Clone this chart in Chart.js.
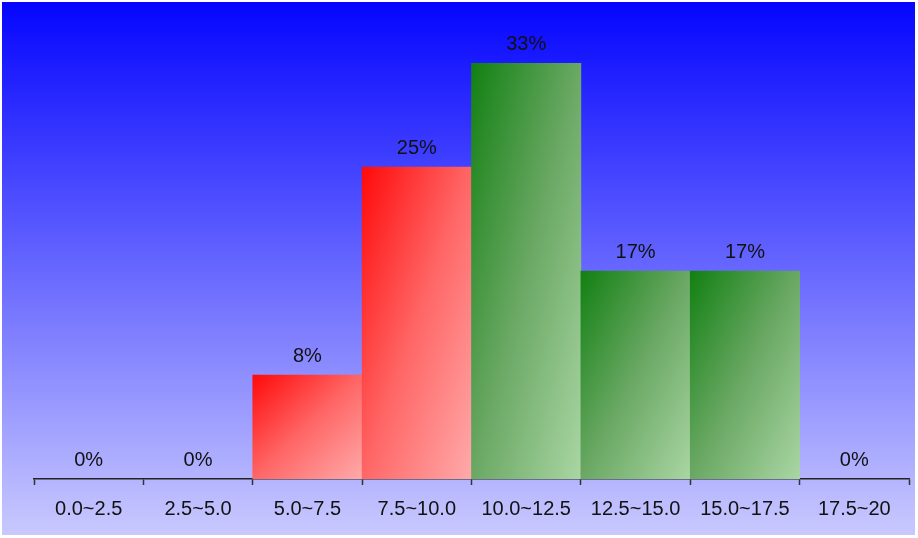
<!DOCTYPE html>
<html>
<head>
<meta charset="utf-8">
<title>Histogram</title>
<script src="https://cdn.jsdelivr.net/npm/chart.js@4/dist/chart.umd.min.js"></script>
<style>
    html, body { margin: 0; padding: 0; background: #fff; }
    canvas { display: block; }
</style>
</head>
<body>
<canvas id="histChart" width="918" height="538"></canvas>
<script>
// Chart data
const rangeLabels = ['0.0~2.5', '2.5~5.0', '5.0~7.5', '7.5~10.0', '10.0~12.5', '12.5~15.0', '15.0~17.5', '17.5~20'];
const sharePercent = [0, 0, 8.33, 25, 33.33, 16.67, 16.67, 0];

// Styling
const barGroup = ['red', 'red', 'red', 'red', 'green', 'green', 'green', 'green'];
const gradientStops = {
    red: ['rgb(255, 10, 10)', 'rgb(255, 102, 102)', 'rgb(255, 170, 170)'],
    green: ['rgb(18, 128, 18)', 'rgb(106, 168, 100)', 'rgb(170, 214, 164)']
};
const FONT = "'Liberation Sans', Arial, sans-serif";

document.addEventListener('DOMContentLoaded', () => {
    const canvas = document.getElementById('histChart');
    const ctx = canvas.getContext('2d');

    // Gradient running from top-left to bottom-right of each bar box
    function barGradient(c) {
        const chart = c.chart;
        const stops = gradientStops[barGroup[c.dataIndex]];
        if (!c.raw) return 'rgba(0, 0, 0, 0)';
        if (!chart.chartArea || !chart.scales.x || !chart.scales.y) return stops[0];
        const xs = chart.scales.x;
        const ys = chart.scales.y;
        const w = xs.width / rangeLabels.length;
        const x0 = xs.getPixelForValue(c.dataIndex) - w / 2;
        const y0 = ys.getPixelForValue(c.raw);
        const h = ys.getPixelForValue(0) - y0;
        if (h <= 0) return stops[0];
        const k = 2 * w * h / (w * w + h * h);
        const g = chart.ctx.createLinearGradient(x0, y0, x0 + k * h, y0 + k * w);
        g.addColorStop(0, stops[0]);
        g.addColorStop(0.5, stops[1]);
        g.addColorStop(1, stops[2]);
        return g;
    }

    const backgroundPlugin = {
        id: 'panelBackground',
        beforeDraw(chart) {
            const c = chart.ctx;
            c.save();
            c.fillStyle = '#ffffff';
            c.fillRect(0, 0, chart.width, chart.height);
            const g = c.createLinearGradient(0, 2, 0, 535);
            g.addColorStop(0, 'rgb(5, 5, 255)');
            g.addColorStop(1, 'rgb(201, 201, 255)');
            c.fillStyle = g;
            c.fillRect(2, 2, 913, 533);
            c.restore();
        }
    };

    const valueLabelPlugin = {
        id: 'valueLabels',
        afterDatasetsDraw(chart) {
            const c = chart.ctx;
            const meta = chart.getDatasetMeta(0);
            c.save();
            c.font = '20px ' + FONT;
            c.fillStyle = '#111';
            c.textAlign = 'center';
            c.textBaseline = 'alphabetic';
            meta.data.forEach((bar, i) => {
                c.fillText(Math.round(sharePercent[i]) + '%', bar.x, bar.y - 13);
            });
            c.restore();
        }
    };

    new Chart(ctx, {
        type: 'bar',
        data: {
            labels: rangeLabels,
            datasets: [{
                data: sharePercent,
                backgroundColor: barGradient,
                borderWidth: 0,
                barPercentage: 1,
                categoryPercentage: 1
            }]
        },
        options: {
            responsive: false,
            animation: false,
            layout: {
                padding: { top: 5, left: 34, right: 9, bottom: 0 }
            },
            plugins: {
                legend: { display: false },
                title: { display: false },
                tooltip: { enabled: false }
            },
            scales: {
                x: {
                    offset: true,
                    grid: {
                        display: true,
                        offset: true,
                        drawOnChartArea: false,
                        drawTicks: true,
                        tickLength: 6,
                        tickWidth: 1.5,
                        tickColor: '#333'
                    },
                    border: { display: true, color: '#222', width: 1.5 },
                    ticks: {
                        color: '#111',
                        padding: 12,
                        maxRotation: 0,
                        autoSkip: false,
                        font: { family: FONT, size: 20 }
                    },
                    afterFit(scale) {
                        scale.height = 59;
                    }
                },
                y: {
                    display: false,
                    min: 0,
                    max: 38
                }
            }
        },
        plugins: [backgroundPlugin, valueLabelPlugin]
    });
});
</script>
</body>
</html>
